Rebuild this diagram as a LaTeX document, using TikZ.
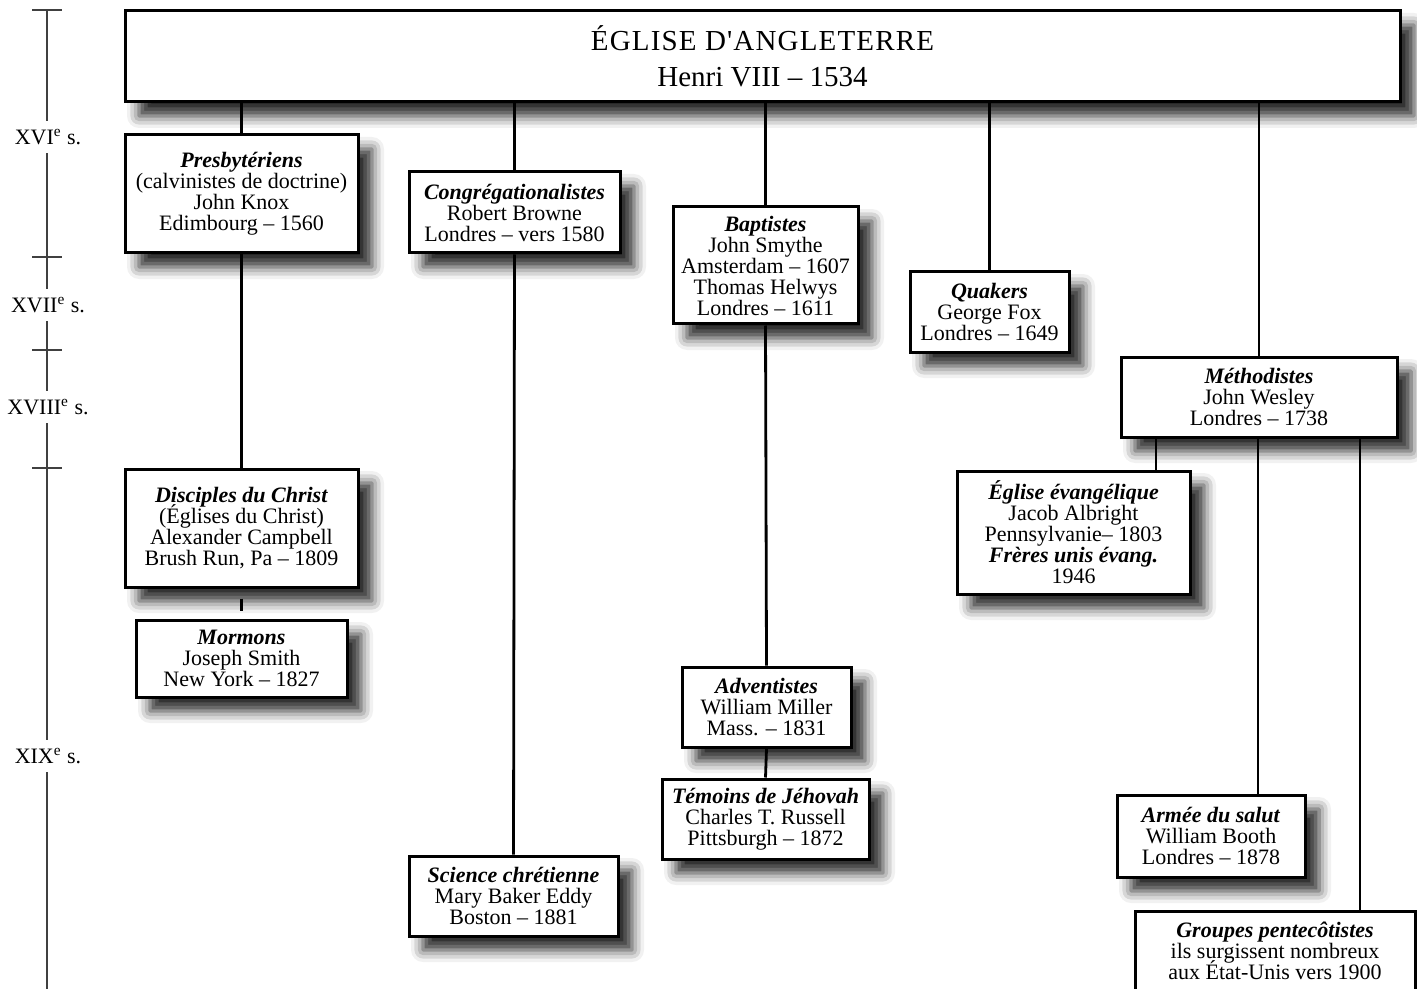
\documentclass[tikz,border=0pt]{standalone}
\usepackage{fontspec}
\setmainfont{Liberation Serif}
\newfontfamily\titlefont{Liberation Serif}[LetterSpace=4]
\usetikzlibrary{shadows.blur}
\setlength{\lineskiplimit}{-6pt}

\newcommand{\hd}[1]{\textbf{\textit{#1}}}

\begin{document}
\begin{tikzpicture}[x=0.5pt,y=-0.5pt,
  box/.style={draw, line width=1.5pt, fill=white, align=center, inner sep=0pt,
    font=\fontsize{11}{10.5}\selectfont,
    blur shadow={shadow xshift=7pt, shadow yshift=-7pt, shadow blur radius=6pt, shadow opacity=85}},
  link/.style={line width=1.4pt},
  rule/.style={line width=0.7pt, black!75},
  era/.style={fill=white, inner xsep=1pt, inner ysep=4pt, font=\fontsize{11}{13}\selectfont}]
\useasboundingbox (0,0) rectangle (1417,989);
% time line
\draw[rule] (47,10) -- (47,989);
\foreach \y in {10,257,350,468} \draw[rule] (32,\y) -- (62,\y);
\node[era] (s16) at (48,137) {XVI\textsuperscript{e} s.};
\node[era] (s17) at (48,305) {XVII\textsuperscript{e} s.};
\node[era] (s18) at (48,407) {XVIII\textsuperscript{e} s.};
\node[era] (s19) at (48,756) {XIX\textsuperscript{e} s.};
% churches
\node[box, minimum width=637.5pt, minimum height=45.5pt, font=\fontsize{14.5}{18}\selectfont] (top) at (762.5,56.5) {{\titlefont ÉGLISE D'ANGLETERRE}\\Henri VIII – 1534};
\node[box, minimum width=116.5pt, minimum height=59pt] (presb) at (241.5,194) {\hd{Presbytériens}\\(calvinistes de doctrine)\\John Knox\\Edimbourg – 1560};
\node[box, minimum width=116.5pt, minimum height=59pt] (disc) at (241.5,528) {\hd{Disciples du Christ}\\(Églises du Christ)\\Alexander Campbell\\Brush Run, Pa – 1809};
\node[box, minimum width=105.5pt, minimum height=38.5pt] (morm) at (241.5,658.5) {\hd{Mormons}\\Joseph Smith\\New York – 1827};
\node[box, minimum width=105.5pt, minimum height=40.5pt] (congr) at (514.5,212.5) {\hd{Congrégationalistes}\\Robert Browne\\Londres – vers 1580};
\node[box, minimum width=104.5pt, minimum height=40pt] (sci) at (513.5,896) {\hd{Science chrétienne}\\Mary Baker Eddy\\Boston – 1881};
\node[box, minimum width=92.5pt, minimum height=58.5pt] (bapt) at (765.5,265.5) {\hd{Baptistes}\\John Smythe\\Amsterdam – 1607\\Thomas Helwys\\Londres – 1611};
\node[box, minimum width=84.5pt, minimum height=40pt] (adv) at (766.5,707) {\hd{Adventistes}\\William Miller\\Mass. – 1831};
\node[box, minimum width=103.5pt, minimum height=40pt] (tem) at (765.5,819) {\hd{Témoins de Jéhovah}\\Charles T. Russell\\Pittsburgh – 1872};
\node[box, minimum width=79.5pt, minimum height=40pt] (quak) at (989.5,312) {\hd{Quakers}\\George Fox\\Londres – 1649};
\node[box, minimum width=138pt, minimum height=40pt] (meth) at (1259,397) {\hd{Méthodistes}\\John Wesley\\Londres – 1738};
\node[box, minimum width=116.5pt, minimum height=61.5pt] (evang) at (1073.5,532.5) {\hd{Église évangélique}\\Jacob Albright\\Pennsylvanie– 1803\\\hd{Frères unis évang.}\\1946};
\node[box, minimum width=94pt, minimum height=41pt] (armee) at (1211,836) {\hd{Armée du salut}\\William Booth\\Londres – 1878};
\node[box, minimum width=140pt, minimum height=40pt] (pent) at (1275,951) {\hd{Groupes pentecôtistes}\\ils surgissent nombreux\\aux État-Unis vers 1900};
% links
\draw[link] (presb.north) -- (presb.north |- top.south);
\draw[link] (presb.south) -- (disc.north);
\draw[link, shorten <=5pt, shorten >=4pt] (disc.south) -- (morm.north);
\draw[link] (congr.north) -- (congr.north |- top.south);
\draw[link] (congr.south) -- (sci.north);
\draw[link] (bapt.north) -- (bapt.north |- top.south);
\draw[link] (bapt.south) -- (adv.north);
\draw[link] (adv.south) -- (tem.north);
\draw[link] (quak.north) -- (quak.north |- top.south);
\draw[link] (meth.north) -- (meth.north |- top.south);
\draw[link] ([xshift=41.25pt]evang.north) -- ([xshift=41.25pt]evang.north |- meth.south);
\draw[link] ([xshift=23.5pt]armee.north) -- ([xshift=23.5pt]armee.north |- meth.south);
\draw[link] ([xshift=42.5pt]pent.north) -- ([xshift=42.5pt]pent.north |- meth.south);
\end{tikzpicture}
\end{document}
